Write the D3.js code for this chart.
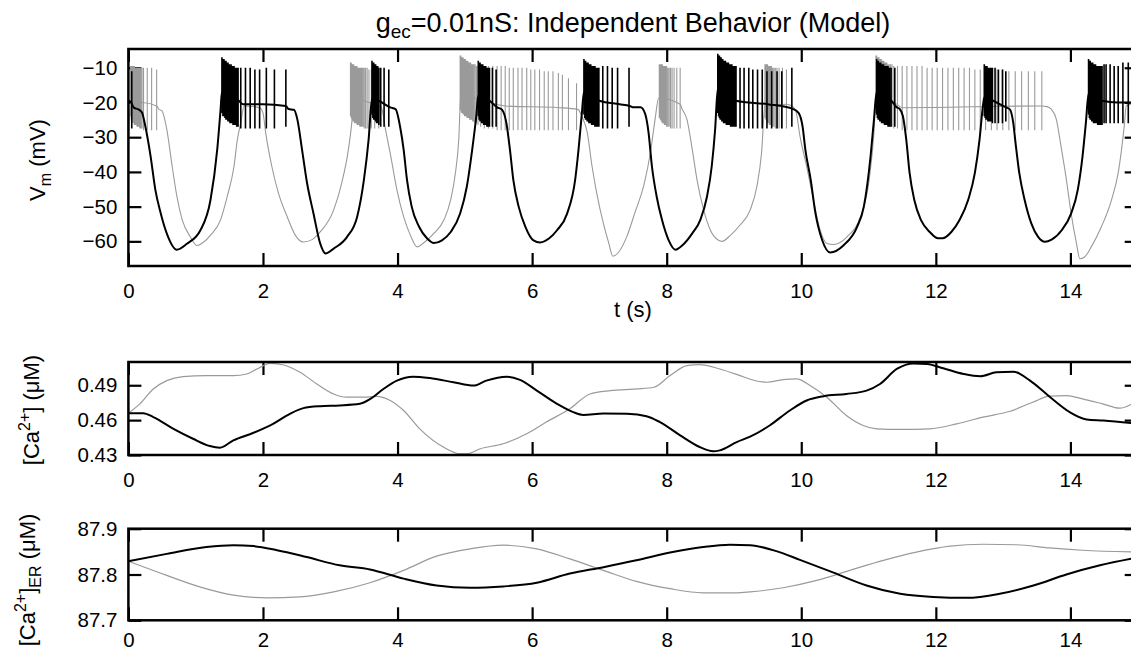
<!DOCTYPE html>
<html>
<head>
<meta charset="utf-8">
<script src="https://cdn.jsdelivr.net/npm/d3@7"></script>
<style>
  html, body { margin: 0; padding: 0; background: #fff; }
  svg { display: block; font-family: "Liberation Sans", Arial, Helvetica, sans-serif; }
</style>
</head>
<body>
<svg id="chart" width="1131" height="652"></svg>
<script>
// ---- time axis ----
const timeTicks = [0, 2, 4, 6, 8, 10, 12, 14];

// ---- membrane potential, cell 1 (black): slow waveform [t (s), Vm (mV)] ----
const vm1Slow = [
  [0.000,-19.5],[0.040,-20.0],[0.080,-21.5],[0.150,-22.0],[0.200,-22.8],[0.250,-26.7],[0.330,-35.5],[0.400,-45.1],
  [0.480,-51.9],[0.570,-57.7],[0.720,-62.4],[0.870,-60.7],[1.070,-56.8],[1.220,-48.1],[1.320,-33.6],[1.370,-22.0],
  [1.390,-17.0],[1.500,-17.5],[1.640,-19.5],[1.700,-20.5],[2.000,-20.5],[2.340,-21.0],[2.380,-21.9],[2.460,-22.1],
  [2.510,-24.8],[2.580,-33.5],[2.655,-43.2],[2.750,-51.9],[2.850,-60.6],[2.930,-63.5],[3.050,-62.1],[3.250,-58.7],
  [3.400,-52.9],[3.500,-42.3],[3.570,-30.7],[3.620,-19.0],[3.720,-19.5],[3.890,-21.4],[3.970,-21.9],[4.040,-27.2],
  [4.090,-33.5],[4.140,-42.2],[4.210,-50.0],[4.320,-55.8],[4.440,-59.2],[4.540,-60.5],[4.660,-59.7],[4.790,-57.3],
  [4.930,-52.0],[5.030,-44.2],[5.110,-33.5],[5.170,-23.9],[5.200,-18.0],[5.370,-19.5],[5.480,-21.4],[5.550,-22.0],
  [5.620,-26.2],[5.670,-33.5],[5.720,-42.2],[5.800,-50.0],[5.900,-55.8],[6.020,-59.7],[6.120,-60.3],[6.250,-59.2],
  [6.370,-56.8],[6.520,-52.0],[6.640,-42.2],[6.690,-33.5],[6.740,-22.9],[6.770,-17.0],[7.000,-19.5],[7.300,-20.5],
  [7.450,-21.0],[7.510,-21.4],[7.610,-21.4],[7.680,-23.3],[7.730,-28.6],[7.780,-38.3],[7.850,-47.0],[7.930,-53.8],
  [8.030,-59.7],[8.130,-62.4],[8.230,-61.2],[8.380,-57.7],[8.500,-53.8],[8.600,-47.0],[8.670,-38.3],[8.720,-27.7],
  [8.760,-16.0],[9.030,-19.5],[9.500,-20.5],[9.880,-21.9],[9.960,-23.0],[10.020,-27.0],[10.060,-33.5],[10.140,-42.2],
  [10.210,-51.8],[10.310,-59.6],[10.430,-63.2],[10.630,-61.1],[10.830,-55.8],[10.930,-50.0],[11.030,-35.5],[11.080,-25.0],
  [11.120,-17.0],[11.340,-19.5],[11.420,-21.4],[11.460,-21.8],[11.510,-23.9],[11.560,-30.6],[11.610,-40.3],[11.680,-48.1],
  [11.780,-53.9],[11.910,-57.3],[12.030,-59.1],[12.100,-59.1],[12.230,-57.3],[12.350,-53.9],[12.480,-48.1],[12.580,-40.3],
  [12.650,-30.6],[12.700,-21.0],[12.720,-18.5],[12.850,-19.5],[13.040,-21.4],[13.100,-22.0],[13.150,-25.8],[13.190,-32.6],
  [13.240,-40.3],[13.320,-48.1],[13.420,-54.9],[13.520,-58.7],[13.620,-60.1],[13.720,-59.5],[13.870,-56.8],[14.010,-52.0],
  [14.110,-45.1],[14.180,-35.5],[14.230,-25.8],[14.270,-17.5],[14.470,-19.5],[14.700,-20.0],[15.000,-20.0]
];

// ---- cell 1 action potentials: [t (s), peak (mV), trough (mV)] ----
const vm1Spikes = [
  [0.050,-11.0,-27.5],
  [1.390,-7.0,-23.0],[1.405,-7.5,-24.0],[1.420,-7.5,-24.0],[1.435,-8.0,-24.5],[1.450,-8.0,-25.0],[1.465,-8.5,-25.0],
  [1.480,-8.5,-25.5],[1.495,-9.0,-25.5],[1.510,-9.0,-26.0],[1.525,-9.0,-26.0],[1.540,-9.5,-26.0],[1.555,-9.5,-26.5],
  [1.570,-9.5,-26.5],[1.590,-10.0,-26.5],[1.610,-10.0,-27.0],[1.630,-10.0,-27.0],
  [1.670,-10.0,-27.5],[1.740,-10.0,-27.5],[1.810,-10.0,-27.5],[1.880,-10.5,-27.5],[1.950,-10.5,-27.5],[2.050,-10.0,-27.5],
  [2.170,-10.5,-27.5],[2.340,-10.5,-27.0],
  [3.620,-8.0,-23.5],[3.633,-8.5,-24.5],[3.646,-8.5,-25.0],[3.660,-9.0,-25.0],[3.674,-9.0,-25.5],[3.689,-9.5,-26.0],
  [3.705,-9.5,-26.0],[3.722,-10.0,-26.5],[3.750,-10.0,-27.0],[3.800,-10.0,-27.0],[3.870,-10.5,-27.0],
  [5.200,-8.0,-24.0],[5.213,-8.5,-25.0],[5.226,-8.5,-25.5],[5.239,-9.0,-25.5],[5.252,-9.0,-26.0],[5.266,-9.0,-26.0],
  [5.280,-9.5,-26.5],[5.295,-9.5,-26.5],[5.311,-9.5,-26.5],[5.328,-10.0,-27.0],[5.346,-10.0,-27.0],[5.366,-10.0,-27.0],
  [5.410,-10.0,-27.0],[5.465,-10.5,-27.0],
  [6.770,-7.5,-23.5],[6.782,-8.0,-24.5],[6.794,-8.0,-25.0],[6.806,-8.5,-25.0],[6.818,-8.5,-25.5],[6.831,-8.5,-25.5],
  [6.844,-9.0,-26.0],[6.857,-9.0,-26.0],[6.871,-9.0,-26.0],[6.885,-9.5,-26.5],[6.900,-9.5,-26.5],[6.916,-9.5,-26.5],
  [6.933,-9.5,-27.0],[6.951,-10.0,-27.0],[6.970,-10.0,-27.0],[6.992,-10.0,-27.0],
  [7.050,-9.5,-27.5],[7.120,-9.5,-27.5],[7.190,-10.0,-27.5],[7.270,-10.0,-27.5],[7.440,-10.0,-27.0],
  [8.760,-6.0,-23.0],[8.772,-6.5,-24.0],[8.784,-6.5,-24.5],[8.796,-7.0,-25.0],[8.808,-7.0,-25.0],[8.820,-7.5,-25.5],
  [8.833,-7.5,-25.5],[8.846,-8.0,-26.0],[8.859,-8.0,-26.0],[8.873,-8.0,-26.0],[8.887,-8.5,-26.5],[8.902,-8.5,-26.5],
  [8.917,-8.5,-26.5],[8.933,-9.0,-26.5],[8.950,-9.0,-27.0],[8.968,-9.0,-27.0],[8.987,-9.5,-27.0],[9.008,-9.5,-27.0],
  [9.030,-9.5,-27.0],
  [9.090,-10.0,-27.5],[9.150,-10.0,-27.5],[9.220,-10.0,-27.5],[9.280,-10.5,-27.5],[9.350,-10.5,-27.5],[9.420,-10.5,-27.5],
  [9.490,-11.0,-27.5],[9.560,-11.0,-27.5],[9.640,-11.0,-27.5],[9.710,-11.0,-27.5],[9.860,-10.0,-27.0],
  [11.120,-7.5,-23.5],[11.132,-8.0,-24.5],[11.144,-8.0,-25.0],[11.156,-8.5,-25.0],[11.168,-8.5,-25.5],[11.181,-8.5,-25.5],
  [11.194,-9.0,-26.0],[11.208,-9.0,-26.0],[11.222,-9.0,-26.0],[11.237,-9.5,-26.5],[11.253,-9.5,-26.5],[11.270,-9.5,-26.5],
  [11.289,-9.5,-27.0],[11.310,-10.0,-27.0],[11.335,-10.0,-27.0],[11.390,-10.0,-27.0],
  [12.720,-9.0,-24.0],[12.733,-9.5,-24.5],[12.746,-9.5,-25.0],[12.760,-9.5,-25.0],[12.774,-10.0,-25.5],[12.789,-10.0,-25.5],
  [12.805,-10.0,-25.5],[12.822,-10.0,-25.5],[12.841,-10.0,-26.0],[12.880,-10.0,-26.0],[12.930,-10.5,-26.0],[12.990,-10.5,-26.0],
  [13.040,-11.0,-25.5],
  [14.270,-7.5,-23.5],[14.282,-8.0,-24.5],[14.294,-8.0,-25.0],[14.306,-8.5,-25.0],[14.318,-8.5,-25.5],[14.331,-8.5,-25.5],
  [14.344,-9.0,-26.0],[14.358,-9.0,-26.0],[14.373,-9.0,-26.0],[14.389,-9.5,-26.0],[14.406,-9.5,-26.5],[14.425,-9.5,-26.5],
  [14.446,-9.5,-26.5],[14.470,-9.5,-26.5],[14.500,-9.0,-26.0],[14.530,-9.0,-26.0],[14.590,-9.0,-26.0],[14.650,-9.5,-26.0],
  [14.710,-9.5,-26.0],[14.780,-8.5,-26.0],[14.860,-8.5,-26.0],[14.930,-8.5,-26.0]
];

// ---- membrane potential, cell 2 (gray): slow waveform ----
const vm2Slow = [
  [0.000,-33.0],[0.030,-20.0],[0.200,-20.0],[0.420,-21.0],[0.450,-21.9],[0.500,-22.4],[0.570,-27.7],[0.650,-38.3],
  [0.720,-47.0],[0.800,-53.8],[0.920,-58.7],[1.020,-61.2],[1.120,-60.2],[1.220,-58.2],[1.370,-53.8],[1.470,-47.0],
  [1.570,-38.3],[1.620,-30.6],[1.670,-25.8],[1.720,-21.0],[1.950,-21.5],[2.000,-23.0],[2.040,-28.7],[2.130,-38.3],
  [2.230,-46.1],[2.360,-52.9],[2.480,-58.2],[2.600,-60.2],[2.730,-59.5],[2.850,-57.3],[3.050,-51.0],[3.170,-43.2],
  [3.270,-33.5],[3.320,-25.8],[3.350,-19.0],[3.580,-20.0],[3.760,-21.5],[3.820,-27.7],[3.890,-34.5],[3.990,-45.1],
  [4.090,-52.9],[4.190,-58.2],[4.290,-61.6],[4.390,-60.4],[4.540,-57.7],[4.690,-53.8],[4.790,-48.0],[4.860,-40.3],
  [4.910,-30.6],[4.940,-18.0],[5.200,-19.0],[5.600,-21.0],[6.400,-21.5],[6.680,-22.0],[6.740,-24.0],[6.820,-28.7],
  [6.890,-38.3],[6.960,-46.1],[7.060,-54.9],[7.140,-60.6],[7.200,-64.3],[7.290,-63.0],[7.410,-58.5],[7.530,-51.6],
  [7.660,-43.9],[7.760,-34.2],[7.830,-24.5],[7.880,-18.7],[8.200,-20.5],[8.230,-21.9],[8.300,-24.8],[8.380,-33.5],
  [8.450,-42.2],[8.550,-51.0],[8.650,-56.8],[8.770,-59.7],[8.820,-60.0],[8.950,-58.2],[9.090,-55.3],[9.240,-51.0],
  [9.340,-44.2],[9.410,-34.5],[9.460,-21.0],[9.780,-20.5],[9.860,-21.0],[9.920,-22.5],[9.980,-29.6],[10.080,-38.4],
  [10.180,-48.0],[10.280,-56.7],[10.380,-60.6],[10.480,-60.9],[10.680,-58.7],[10.880,-52.9],[11.010,-42.2],[11.080,-28.7],
  [11.110,-19.0],[11.380,-20.0],[11.500,-21.5],[13.580,-21.0],[13.650,-21.2],[13.720,-22.0],[13.790,-24.8],[13.860,-32.6],
  [13.940,-42.2],[14.010,-51.9],[14.090,-60.6],[14.140,-65.0],[14.210,-64.5],[14.310,-61.6],[14.460,-55.8],[14.610,-48.1],
  [14.710,-40.3],[14.760,-33.5],[14.800,-26.8],[14.830,-21.0],[15.000,-20.0]
];

// ---- cell 2 action potentials: [t (s), peak (mV), trough (mV)] ----
const vm2Spikes = [
  [0.030,-9.5,-24.0],[0.042,-9.5,-25.0],[0.054,-9.5,-25.5],[0.066,-9.5,-26.0],[0.078,-9.5,-26.0],[0.090,-9.5,-26.5],
  [0.102,-10.0,-26.5],[0.114,-10.0,-26.5],[0.127,-10.0,-27.0],[0.140,-10.0,-27.0],[0.154,-10.0,-27.0],[0.169,-10.0,-27.5],
  [0.185,-10.0,-27.5],[0.203,-10.0,-27.5],[0.225,-10.0,-28.0],[0.280,-10.0,-28.0],[0.345,-10.0,-28.0],[0.420,-10.5,-28.0],
  [3.300,-8.5,-24.0],[3.312,-8.5,-24.5],[3.324,-9.0,-25.0],[3.336,-9.0,-25.5],[3.348,-9.0,-25.5],[3.360,-9.5,-26.0],
  [3.372,-9.5,-26.0],[3.385,-9.5,-26.0],[3.398,-9.5,-26.5],[3.411,-10.0,-26.5],[3.425,-10.0,-26.5],[3.439,-10.0,-27.0],
  [3.454,-10.0,-27.0],[3.470,-10.0,-27.0],[3.487,-10.0,-27.0],[3.505,-10.0,-27.5],[3.525,-10.0,-27.5],[3.548,-10.0,-27.5],
  [3.575,-10.5,-27.5],[3.610,-10.5,-27.5],[3.660,-10.5,-27.5],[3.720,-10.5,-27.5],
  [4.930,-6.5,-22.0],[4.941,-6.5,-22.5],[4.952,-7.0,-23.0],[4.963,-7.0,-23.0],[4.974,-7.0,-23.5],[4.985,-7.5,-23.5],
  [4.996,-7.5,-24.0],[5.008,-7.5,-24.0],[5.020,-8.0,-24.0],[5.032,-8.0,-24.5],[5.045,-8.0,-24.5],[5.058,-8.5,-24.5],
  [5.072,-8.5,-25.0],[5.086,-8.5,-25.0],[5.101,-9.0,-25.0],[5.117,-9.0,-25.5],[5.134,-9.0,-25.5],[5.152,-9.0,-26.0],
  [5.172,-9.5,-26.0],[5.195,-9.5,-26.5],
  [5.235,-9.5,-27.0],[5.290,-9.5,-27.5],[5.350,-9.5,-27.5],[5.415,-9.5,-27.5],[5.480,-9.5,-28.0],[5.540,-9.5,-28.0],
  [5.600,-9.5,-28.0],[5.660,-10.0,-28.0],[5.720,-10.0,-28.0],[5.790,-10.0,-28.0],[5.850,-10.0,-28.0],[5.920,-10.0,-28.0],
  [5.980,-10.5,-28.0],[6.040,-10.5,-28.0],[6.110,-10.5,-28.0],[6.180,-11.0,-28.0],[6.240,-11.0,-28.0],[6.310,-11.0,-28.0],
  [6.390,-11.5,-28.0],[6.450,-12.0,-28.0],[6.540,-13.0,-28.0],[6.660,-14.5,-28.0],
  [7.890,-9.0,-24.5],[7.905,-9.0,-25.0],[7.920,-9.0,-25.5],[7.935,-9.0,-26.0],[7.950,-9.5,-26.0],[7.966,-9.5,-26.5],
  [7.982,-9.5,-26.5],[7.999,-9.5,-27.0],[8.017,-10.0,-27.0],[8.036,-10.0,-27.0],[8.057,-10.0,-27.5],[8.080,-10.0,-27.5],
  [8.110,-10.0,-27.5],[8.150,-10.0,-27.5],[8.200,-10.0,-27.5],
  [9.460,-9.0,-24.5],[9.473,-9.0,-25.0],[9.486,-9.0,-25.5],[9.499,-9.0,-26.0],[9.512,-9.5,-26.0],[9.526,-9.5,-26.5],
  [9.541,-9.5,-26.5],[9.557,-9.5,-27.0],[9.574,-10.0,-27.0],[9.593,-10.0,-27.0],[9.614,-10.0,-27.5],[9.638,-10.0,-27.5],
  [9.670,-10.0,-27.5],[9.720,-10.0,-27.5],[9.780,-10.5,-27.5],
  [11.110,-6.5,-23.0],[11.121,-6.5,-23.5],[11.132,-7.0,-24.0],[11.143,-7.0,-24.0],[11.154,-7.0,-24.5],[11.165,-7.5,-24.5],
  [11.177,-7.5,-25.0],[11.189,-7.5,-25.0],[11.201,-8.0,-25.5],[11.214,-8.0,-25.5],[11.227,-8.0,-26.0],[11.241,-8.5,-26.0],
  [11.256,-8.5,-26.0],[11.272,-8.5,-26.5],[11.289,-9.0,-26.5],[11.307,-9.0,-27.0],[11.327,-9.0,-27.0],[11.349,-9.0,-27.0],
  [11.374,-9.5,-27.5],
  [11.430,-9.5,-27.5],[11.500,-9.5,-28.0],[11.570,-9.5,-28.0],[11.645,-9.5,-28.0],[11.720,-9.5,-28.0],[11.795,-9.5,-28.0],
  [11.870,-10.0,-28.0],[11.945,-10.0,-28.0],[12.020,-10.0,-28.0],[12.100,-10.0,-28.0],[12.180,-10.0,-28.0],[12.260,-10.0,-28.0],
  [12.340,-10.0,-28.0],[12.420,-10.0,-28.0],[12.500,-10.0,-28.0],[12.580,-10.5,-28.0],[12.660,-10.5,-28.0],[12.740,-10.5,-28.0],
  [12.825,-10.5,-28.0],[12.910,-10.5,-28.0],[12.995,-10.5,-28.0],[13.085,-11.0,-28.0],[13.180,-11.0,-28.0],[13.275,-11.0,-28.0],
  [13.375,-11.0,-28.0],[13.470,-11.0,-28.0],[13.575,-11.0,-28.0]
];

// ---- cytosolic calcium [t (s), µM] ----
const ca1 = [
  [0.00,0.466],[0.22,0.466],[0.37,0.4626],[0.67,0.4525],[0.96,0.444],[1.21,0.4377],[1.36,0.4363],[1.56,0.4426],
  [1.86,0.4491],[2.15,0.4568],[2.40,0.4654],[2.60,0.4703],[2.85,0.472],[3.14,0.4726],[3.44,0.474],[3.59,0.478],
  [3.79,0.4868],[3.99,0.494],[4.23,0.4974],[4.48,0.4962],[4.83,0.4926],[5.13,0.4897],[5.32,0.494],[5.62,0.4974],
  [5.82,0.4946],[6.07,0.4854],[6.37,0.474],[6.61,0.4669],[6.76,0.4645],[7.06,0.4657],[7.41,0.4654],[7.70,0.4634],
  [7.90,0.4583],[8.20,0.4469],[8.49,0.4369],[8.69,0.4332],[8.79,0.434],[9.04,0.4411],[9.24,0.4458],[9.53,0.4554],
  [9.83,0.4683],[10.08,0.4769],[10.33,0.4806],[10.67,0.4825],[10.97,0.4854],[11.17,0.4911],[11.42,0.504],[11.67,0.5088],
  [11.87,0.5082],[12.11,0.5046],[12.41,0.4997],[12.66,0.4977],[12.90,0.5011],[13.15,0.5017],[13.40,0.494],[13.70,0.4797],
  [13.99,0.4669],[14.24,0.4606],[14.49,0.4597],[15.00,0.457]
];
const ca2 = [
  [0.00,0.466],[0.17,0.474],[0.37,0.4868],[0.57,0.494],[0.81,0.4974],[1.16,0.4983],[1.56,0.4983],[1.76,0.4997],
  [1.91,0.504],[2.11,0.5088],[2.31,0.5074],[2.55,0.5011],[2.80,0.4911],[3.05,0.4825],[3.24,0.4797],[3.49,0.4797],
  [3.69,0.4804],[3.89,0.4769],[4.09,0.4683],[4.33,0.4525],[4.68,0.4369],[4.93,0.4311],[5.03,0.4311],[5.23,0.4354],
  [5.57,0.4397],[5.92,0.4483],[6.21,0.4583],[6.56,0.4697],[6.86,0.4825],[7.16,0.4854],[7.56,0.4868],[7.81,0.4883],
  [8.05,0.4983],[8.30,0.5069],[8.49,0.5077],[8.79,0.504],[9.09,0.4983],[9.24,0.4952],[9.49,0.4926],[9.73,0.4949],
  [9.93,0.4954],[10.13,0.4897],[10.38,0.4797],[10.67,0.464],[10.92,0.4554],[11.12,0.4525],[11.47,0.452],[11.91,0.4525],
  [12.31,0.4568],[12.70,0.4626],[13.09,0.4674],[13.44,0.4754],[13.69,0.4806],[13.94,0.4811],[14.18,0.4783],[14.48,0.474],
  [14.73,0.4703],[15.00,0.477]
];

// ---- ER calcium [t (s), µM] ----
const er1 = [
  [0.00,87.829],[0.57,87.845],[1.16,87.860],[1.56,87.864],[1.86,87.862],[2.21,87.853],[2.65,87.838],[3.14,87.820],
  [3.59,87.811],[4.09,87.791],[4.58,87.776],[5.08,87.771],[5.57,87.774],[6.07,87.782],[6.56,87.802],[7.06,87.816],
  [7.55,87.831],[8.05,87.848],[8.54,87.860],[8.94,87.865],[9.24,87.864],[9.63,87.851],[9.98,87.832],[10.48,87.804],
  [10.97,87.776],[11.47,87.758],[11.96,87.751],[12.46,87.749],[12.95,87.758],[13.45,87.776],[13.94,87.800],[14.44,87.820],
  [15.00,87.837]
];
const er2 = [
  [0.00,87.829],[0.57,87.798],[1.06,87.773],[1.56,87.755],[2.06,87.749],[2.55,87.751],[3.05,87.762],[3.59,87.782],
  [4.09,87.809],[4.58,87.840],[5.08,87.856],[5.57,87.864],[6.07,87.856],[6.56,87.834],[7.06,87.809],[7.55,87.785],
  [8.05,87.769],[8.54,87.760],[9.04,87.760],[9.24,87.762],[9.73,87.771],[10.23,87.787],[10.72,87.809],[11.22,87.831],
  [11.71,87.849],[12.21,87.862],[12.70,87.866],[13.20,87.865],[13.69,87.858],[14.18,87.853],[15.00,87.849]
];

// ---- tick values ----
const vmTicks = [-60, -50, -40, -30, -20, -10];
const caTicks = [0.43, 0.46, 0.49];
const erTicks = [87.7, 87.8, 87.9];

// ---------------------------------------------------------------
const svg = d3.select("#chart");
const FONT = 20.5;
const LABEL_FONT = 22;
const x = d3.scaleLinear().domain([0, 15]).range([128.4, 1137.7]);

const panels = [
  { id: "vm", y: d3.scaleLinear().domain([-67.1, -4.6]).range([266, 49]), ticks: vmTicks, fmt: d3.format("d"), pad: 17 },
  { id: "ca", y: d3.scaleLinear().domain([0.43, 0.51]).range([455, 362]), ticks: caTicks, fmt: d3.format(".2f"), pad: 17 },
  { id: "er", y: d3.scaleLinear().domain([87.7, 87.9]).range([620.3, 528.7]), ticks: erTicks, fmt: d3.format(".1f"), pad: 12.5 }
];

function styleAxis(g) {
  g.select(".domain").remove();
  g.selectAll(".tick line").attr("stroke", "#000").attr("stroke-width", 2.2);
  g.selectAll(".tick text").attr("fill", "#000").attr("font-size", FONT)
    .attr("font-family", "'Liberation Sans', Arial, Helvetica, sans-serif");
}

panels.forEach(p => {
  const [y0, y1] = p.y.range();
  const g = svg.append("g");

  g.append("clipPath").attr("id", "clip-" + p.id)
    .append("rect").attr("x", x(0)).attr("y", y1).attr("width", x(15) - x(0)).attr("height", y0 - y1);

  // axes with inward ticks on all four sides
  g.append("g").attr("transform", `translate(0,${y0})`)
    .call(d3.axisBottom(x).tickValues(timeTicks).tickSizeInner(-13).tickSizeOuter(0).tickPadding(p.pad).tickFormat(d3.format("d")))
    .call(styleAxis);
  g.append("g").attr("transform", `translate(0,${y1})`)
    .call(d3.axisTop(x).tickValues(timeTicks).tickSizeInner(-13).tickSizeOuter(0).tickFormat(""))
    .call(styleAxis);
  g.append("g").attr("transform", `translate(${x(0)},0)`)
    .call(d3.axisLeft(p.y).tickValues(p.ticks).tickSizeInner(-13).tickSizeOuter(0).tickPadding(11).tickFormat(p.fmt))
    .call(styleAxis);
  g.append("g").attr("transform", `translate(${x(15)},0)`)
    .call(d3.axisRight(p.y).tickValues(p.ticks).tickSizeInner(-13).tickSizeOuter(0).tickFormat(""))
    .call(styleAxis);

  p.g = g;
});

// ---- traces ----
function slowLine(y) {
  return d3.line().x(d => x(d[0])).y(d => y(d[1])).curve(d3.curveMonotoneX);
}
function spikePath(spikes, y) {
  return spikes.map(([t, pk, tr]) => `M${x(t)},${y(pk)}V${y(tr)}`).join("");
}

const GRAY = "#9a9a9a";
const vm = panels[0], ca = panels[1], er = panels[2];

const vmLayer = vm.g.append("g").attr("clip-path", "url(#clip-vm)");
vmLayer.append("path").attr("d", slowLine(vm.y)(vm2Slow)).attr("fill", "none").attr("stroke", GRAY).attr("stroke-width", 1.1);
vmLayer.append("path").attr("d", spikePath(vm2Spikes, vm.y)).attr("fill", "none").attr("stroke", GRAY).attr("stroke-width", 1.1);
vmLayer.append("path").attr("d", slowLine(vm.y)(vm1Slow)).attr("fill", "none").attr("stroke", "#000").attr("stroke-width", 2);
vmLayer.append("path").attr("d", spikePath(vm1Spikes, vm.y)).attr("fill", "none").attr("stroke", "#000").attr("stroke-width", 1.6);

const caLayer = ca.g.append("g").attr("clip-path", "url(#clip-ca)");
caLayer.append("path").attr("d", slowLine(ca.y)(ca2)).attr("fill", "none").attr("stroke", GRAY).attr("stroke-width", 1.2);
caLayer.append("path").attr("d", slowLine(ca.y)(ca1)).attr("fill", "none").attr("stroke", "#000").attr("stroke-width", 2);

const erLayer = er.g.append("g").attr("clip-path", "url(#clip-er)");
erLayer.append("path").attr("d", slowLine(er.y)(er2)).attr("fill", "none").attr("stroke", GRAY).attr("stroke-width", 1.2);
erLayer.append("path").attr("d", slowLine(er.y)(er1)).attr("fill", "none").attr("stroke", "#000").attr("stroke-width", 2);

// ---- frames ----
panels.forEach(p => {
  const [y0, y1] = p.y.range();
  p.g.append("rect").attr("x", x(0)).attr("y", y1).attr("width", x(15) - x(0)).attr("height", y0 - y1)
    .attr("fill", "none").attr("stroke", "#000").attr("stroke-width", 2.5);
});

// ---- text ----
const title = svg.append("text").attr("x", 633).attr("y", 32).attr("text-anchor", "middle").attr("font-size", 27);
title.append("tspan").text("g");
title.append("tspan").attr("font-size", 19).attr("dy", 6).text("ec");
title.append("tspan").attr("dy", -6).text("=0.01nS: Independent Behavior (Model)");

svg.append("text").attr("x", 633).attr("y", 317).attr("text-anchor", "middle").attr("font-size", LABEL_FONT).text("t (s)");

const vmLab = svg.append("text").attr("transform", "translate(45,160) rotate(-90)").attr("text-anchor", "middle").attr("font-size", LABEL_FONT);
vmLab.append("tspan").text("V");
vmLab.append("tspan").attr("font-size", 16).attr("dy", 6).text("m");
vmLab.append("tspan").attr("dy", -6).text(" (mV)");

const caLab = svg.append("text").attr("transform", "translate(39,410) rotate(-90)").attr("text-anchor", "middle").attr("font-size", LABEL_FONT);
caLab.append("tspan").text("[Ca");
caLab.append("tspan").attr("font-size", 16).attr("dy", -9).text("2+");
caLab.append("tspan").attr("dy", 9).text("] (\u03BCM)");

const erLab = svg.append("text").attr("transform", "translate(35,580) rotate(-90)").attr("text-anchor", "middle").attr("font-size", LABEL_FONT);
erLab.append("tspan").text("[Ca");
erLab.append("tspan").attr("font-size", 16).attr("dy", -9).text("2+");
erLab.append("tspan").attr("dy", 9).text("]");
erLab.append("tspan").attr("font-size", 16).attr("dy", 6).text("ER");
erLab.append("tspan").attr("dy", -6).text(" (\u03BCM)");
</script>
</body>
</html>
